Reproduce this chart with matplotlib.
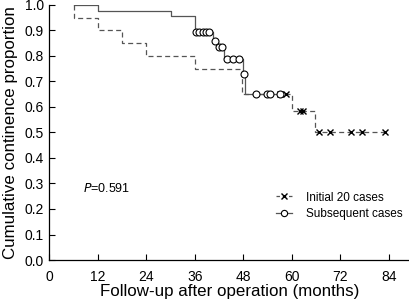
import matplotlib
matplotlib.use('Agg')
import matplotlib.pyplot as plt
from matplotlib import font_manager

# pick a narrow Helvetica-like font if available
names = {f.name for f in font_manager.fontManager.ttflist}
fam = 'Liberation Sans Narrow' if 'Liberation Sans Narrow' in names else 'Liberation Sans'
plt.rcParams['font.family'] = [fam, 'DejaVu Sans']
plt.rcParams['lines.scale_dashes'] = False

# Initial 20 cases (step curve)
t_ini = [6, 6, 12, 18, 24, 36, 47.6, 60.1, 65.7, 83]
s_ini = [1.0, 0.95, 0.90, 0.85, 0.80, 0.75, 0.65, 0.585, 0.50, 0.50]
# censored, initial
c_ini_t = [57, 58.6, 62.1, 62.7, 66.8, 69.4, 74.6, 77.3, 82.9]
c_ini_s = [0.65, 0.65, 0.585, 0.585, 0.50, 0.50, 0.50, 0.50, 0.50]

# Subsequent cases (step curve)
t_sub = [6, 12, 30, 36, 40.5, 41.5, 43.3, 47.8, 48.4, 57]
s_sub = [1.0, 0.976, 0.955, 0.895, 0.86, 0.834, 0.79, 0.73, 0.65, 0.65]
# censored, subsequent
c_sub_t = [36.3, 37.1, 37.9, 38.7, 39.5, 41, 42, 42.8, 44, 45.5, 47, 48.1,
           51, 53.7, 54.6, 57]
c_sub_s = [0.895, 0.895, 0.895, 0.895, 0.895, 0.86, 0.834, 0.834, 0.79, 0.79,
           0.79, 0.73, 0.65, 0.65, 0.65, 0.65]

xticks = [0, 12, 24, 36, 48, 60, 72, 84]
yticks = [0.0, 0.1, 0.2, 0.3, 0.4, 0.5, 0.6, 0.7, 0.8, 0.9, 1.0]

fig = plt.figure(figsize=(4.10, 3.04), dpi=100)
ax = fig.add_axes([0.1207, 0.1447, 0.8793, 0.839])

line_col = '#555555'
ax.step(t_ini, s_ini, where='post', color=line_col, lw=0.9,
        linestyle=(0, (3.6, 2.4)))
ax.step(t_sub, s_sub, where='post', color=line_col, lw=0.9)
ax.plot(c_ini_t, c_ini_s, linestyle='none', marker='x', ms=4.5, mew=1.0,
        color='black')
ax.plot(c_sub_t, c_sub_s, linestyle='none', marker='o', ms=5, mew=0.8,
        mfc='white', mec='black')

# legend proxies
h1, = ax.plot([], [], color=line_col, lw=0.9, linestyle=(0, (2.5, 2.0)),
              marker='x', ms=4, mec='black', mew=1.0)
h2, = ax.plot([], [], color=line_col, lw=0.9, marker='o', ms=4.5,
              mfc='white', mec='black', mew=0.8)
ax.legend([h1, h2], ['Initial 20 cases', 'Subsequent cases'], frameon=False,
          fontsize=8.5, handlelength=1.4, handletextpad=1.2, labelspacing=0.35,
          loc='upper left', bbox_to_anchor=(0.598, 0.31))

ax.text(8.3, 0.28, r'$\it{P}$=0.591', fontsize=9, va='center')

ax.set_xlim(0, 89.2)
ax.set_ylim(0, 1.0)
ax.set_xticks(xticks)
ax.set_yticks(yticks)
ax.set_yticklabels([f'{v:.1f}' for v in yticks])
ax.tick_params(direction='in', length=4, width=0.8, labelsize=10)
ax.tick_params(axis='x', pad=7)
ax.tick_params(axis='y', pad=4)
for s in ['top', 'right']:
    ax.spines[s].set_visible(False)
for s in ['left', 'bottom']:
    ax.spines[s].set_linewidth(0.9)

ax.set_xlabel('Follow-up after operation (months)', fontsize=12.2, labelpad=0)
ax.set_ylabel('Cumulative continence proportion', fontsize=12.2, labelpad=5)

fig.savefig('out.png', dpi=100)
